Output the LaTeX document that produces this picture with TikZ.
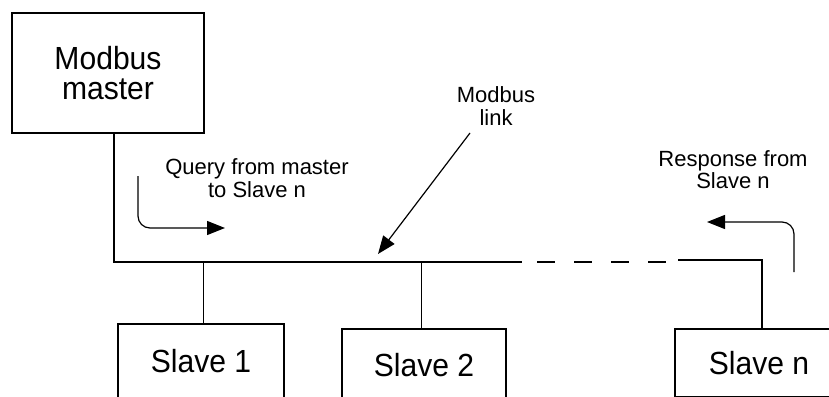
\documentclass[tikz,border=0pt]{standalone}
\usepackage{fontspec}
\setmainfont{Liberation Sans}
\newfontfamily\bigfont[FakeStretch=0.94]{Liberation Sans}
\usetikzlibrary{arrows.meta}
\begin{document}
\begin{tikzpicture}[x=1pt,y=-1pt,
  box/.style={draw, line width=1.5pt, inner sep=0pt, align=center,
    font=\bigfont\fontsize{32}{30}\selectfont},
  wire/.style={line width=1.5pt},
  pointer/.style={line width=1.2pt, -{Triangle[length=18pt,width=14pt]}},
  lbl/.style={inner sep=0pt, align=center, font=\fontsize{22}{22.5}\selectfont}]
\useasboundingbox (0,0) rectangle (829,396);
\clip (0,0) rectangle (829,396);
% boxes
\node[box, minimum width=192pt, minimum height=120pt] (master) at (108,73) {Modbus\\master};
\node[box, minimum width=166pt, minimum height=74pt] (slave1) at (201,361) {Slave 1};
\node[box, minimum width=164pt, minimum height=72pt] (slave2) at (424,365) {Slave 2};
\node[box, minimum width=168pt, minimum height=68pt] (slaven) at (759,363) {Slave n};
% labels
\node[lbl] (query) at (257,178) {Query from master\\to Slave n};
\node[lbl] (linklbl) at (496,106) {Modbus\\link};
\node[lbl] (resp) at (733,169.5) {Response from\\Slave n};
% bus coordinates
\coordinate (corner) at (114,262);
\coordinate (t1) at (203.5,262);
\coordinate (t2) at (421.5,262);
\coordinate (e1) at (521.5,262);
\coordinate (d1) at (537,262);
\coordinate (d2) at (668,262);
\coordinate (e2) at (678,260);
\coordinate (tn) at (762,260);
% bus
\draw[wire] (master.south -| corner) -- (corner) -- (e1);
\draw[wire, dash pattern=on 18pt off 19pt] (d1) -- (d2);
\draw[wire] (e2) -- (tn) -- (tn |- slaven.north);
\draw[wire] (t1) -- (t1 |- slave1.north);
\draw[wire] (t2) -- (t2 |- slave2.north);
% pointers
\coordinate (q0) at (138,176);
\coordinate (q1) at (225,228);
\draw[pointer, rounded corners=12pt] (q0) |- (q1);
\coordinate (r0) at (794,272);
\coordinate (r1) at (707,222);
\draw[pointer, rounded corners=12pt] (r0) |- (r1);
\coordinate (l0) at (470,133);
\coordinate (l1) at (378,254);
\draw[pointer] (l0) -- (l1);
\end{tikzpicture}
\end{document}
